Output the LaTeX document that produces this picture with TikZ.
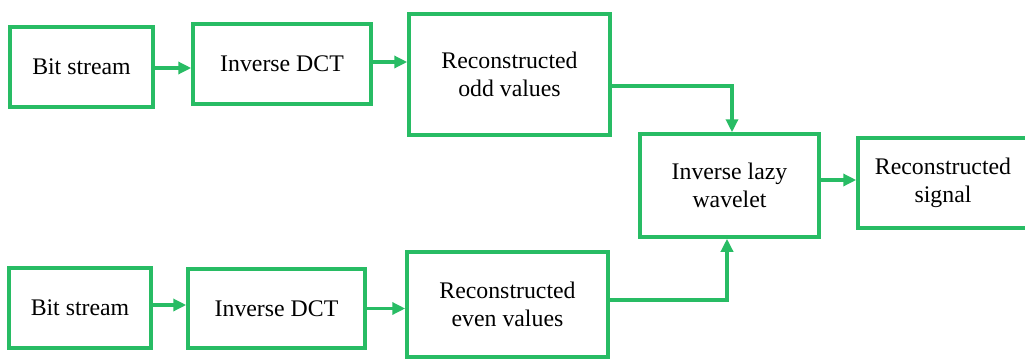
\documentclass[tikz,border=0pt]{standalone}
\usepackage{fontspec}
\setmainfont{Liberation Serif}
\usetikzlibrary{arrows.meta}
\definecolor{bgreen}{RGB}{40,188,100}
\tikzset{
  blk/.style={draw=bgreen, line width=3.5pt, fill=white, inner sep=0pt, align=center,
    font=\fontsize{23.8}{28}\selectfont, text=black},
  conn/.style={draw=bgreen, line width=3.5pt, -{Triangle[length=13pt,width=12pt]}}
}
\begin{document}
\begin{tikzpicture}[x=1pt,y=-1pt]
\useasboundingbox (0,0) rectangle (1025,359);
% top row
\node[blk, minimum width=143pt, minimum height=80pt] (b1) at (81.5,67) {Bit stream};
\node[blk, minimum width=178pt, minimum height=80pt] (d1) at (282,64) {Inverse DCT};
\node[blk, minimum width=201pt, minimum height=121pt] (odd) at (509.5,74.5) {Reconstructed\\odd values};
% middle
\node[blk, minimum width=179pt, minimum height=103pt] (wav) at (729.5,185.5) {Inverse lazy\\wavelet};
\node[blk, minimum width=170pt, minimum height=90pt] (sig) at (943,183) {Reconstructed\\signal};
% bottom row
\node[blk, minimum width=142pt, minimum height=80pt] (b2) at (80,308) {Bit stream};
\node[blk, minimum width=177pt, minimum height=79pt] (d2) at (276.5,308.5) {Inverse DCT};
\node[blk, minimum width=201pt, minimum height=105pt] (even) at (507.5,304.5) {Reconstructed\\even values};
% connectors
\draw[conn] ([yshift=-1pt]b1.east) -- ([yshift=-1pt]b1.east -| d1.west);
\draw[conn] ([yshift=2pt]d1.east) -- ([yshift=2pt]d1.east -| odd.west);
\draw[conn] ([yshift=-11.5pt]odd.east) -| ([xshift=2.5pt]wav.north);
\draw[conn] ([yshift=5.5pt]wav.east) -- ([yshift=5.5pt]wav.east -| sig.west);
\draw[conn] ([yshift=3pt]b2.east) -- ([yshift=3pt]b2.east -| d2.west);
\draw[conn] (d2.east) -- (d2.east -| even.west);
\draw[conn] ([yshift=4.5pt]even.east) -| ([xshift=-2.5pt]wav.south);
\end{tikzpicture}
\end{document}
